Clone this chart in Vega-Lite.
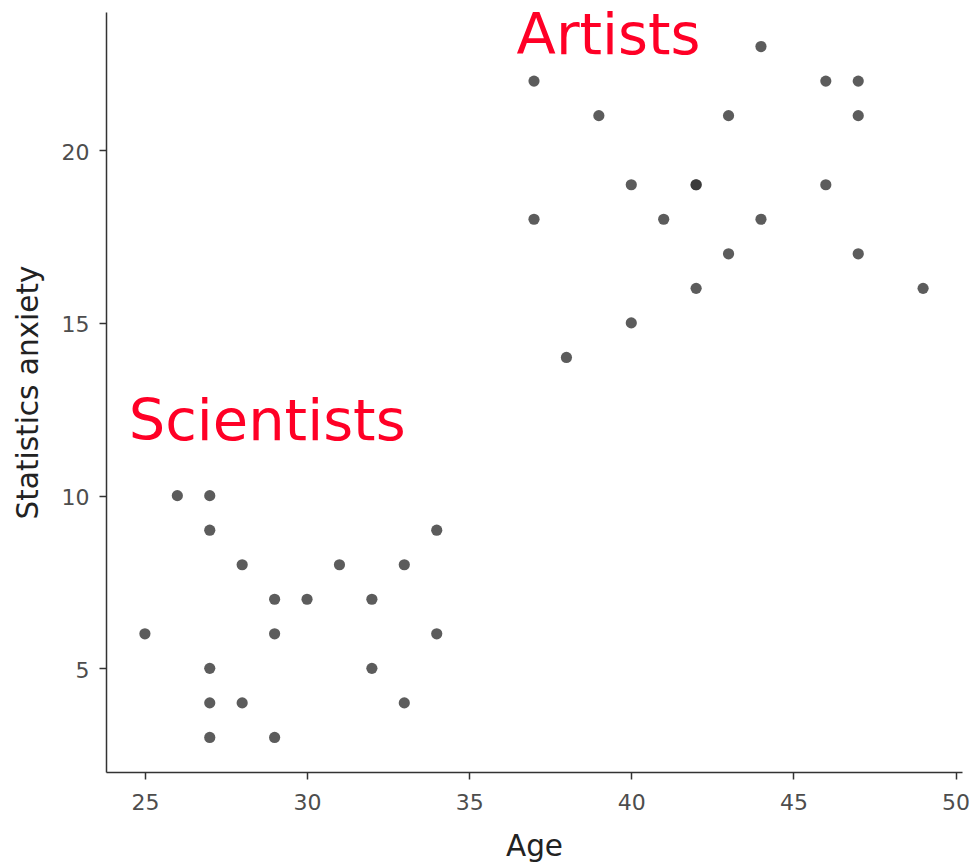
{
  "$schema": "https://vega.github.io/schema/vega-lite/v6.json",
  "autosize": {"type": "none"},
  "padding": {"left": 106, "top": 12, "right": 12, "bottom": 90},
  "width": 856,
  "height": 760,
  "background": "white",
  "config": {
    "view": {"stroke": null},
    "font": "DejaVu Sans",
    "axis": {
      "grid": false,
      "domainColor": "#333333",
      "domainWidth": 1.5,
      "tickColor": "#333333",
      "tickWidth": 1.5,
      "tickSize": 7,
      "labelFont": "DejaVu Sans",
      "labelFontSize": 22,
      "labelColor": "#4d4d4d",
      "titleFont": "DejaVu Sans",
      "titleFontSize": 29.5,
      "titleFontWeight": "normal",
      "titleColor": "#222222"
    }
  },
  "datasets": {
    "points": [
      {"age": 25, "anxiety": 6, "group": "Scientists"},
      {"age": 26, "anxiety": 10, "group": "Scientists"},
      {"age": 27, "anxiety": 10, "group": "Scientists"},
      {"age": 27, "anxiety": 9, "group": "Scientists"},
      {"age": 27, "anxiety": 5, "group": "Scientists"},
      {"age": 27, "anxiety": 4, "group": "Scientists"},
      {"age": 27, "anxiety": 3, "group": "Scientists"},
      {"age": 28, "anxiety": 8, "group": "Scientists"},
      {"age": 28, "anxiety": 4, "group": "Scientists"},
      {"age": 29, "anxiety": 7, "group": "Scientists"},
      {"age": 29, "anxiety": 6, "group": "Scientists"},
      {"age": 29, "anxiety": 3, "group": "Scientists"},
      {"age": 30, "anxiety": 7, "group": "Scientists"},
      {"age": 31, "anxiety": 8, "group": "Scientists"},
      {"age": 32, "anxiety": 7, "group": "Scientists"},
      {"age": 32, "anxiety": 5, "group": "Scientists"},
      {"age": 33, "anxiety": 8, "group": "Scientists"},
      {"age": 33, "anxiety": 4, "group": "Scientists"},
      {"age": 34, "anxiety": 9, "group": "Scientists"},
      {"age": 34, "anxiety": 6, "group": "Scientists"},
      {"age": 37, "anxiety": 22, "group": "Artists"},
      {"age": 37, "anxiety": 18, "group": "Artists"},
      {"age": 38, "anxiety": 14, "group": "Artists"},
      {"age": 39, "anxiety": 21, "group": "Artists"},
      {"age": 40, "anxiety": 19, "group": "Artists"},
      {"age": 40, "anxiety": 15, "group": "Artists"},
      {"age": 41, "anxiety": 18, "group": "Artists"},
      {"age": 42, "anxiety": 19, "group": "Artists"},
      {"age": 42, "anxiety": 19, "group": "Artists"},
      {"age": 42, "anxiety": 16, "group": "Artists"},
      {"age": 43, "anxiety": 21, "group": "Artists"},
      {"age": 43, "anxiety": 17, "group": "Artists"},
      {"age": 44, "anxiety": 23, "group": "Artists"},
      {"age": 44, "anxiety": 18, "group": "Artists"},
      {"age": 46, "anxiety": 22, "group": "Artists"},
      {"age": 46, "anxiety": 19, "group": "Artists"},
      {"age": 47, "anxiety": 22, "group": "Artists"},
      {"age": 47, "anxiety": 21, "group": "Artists"},
      {"age": 47, "anxiety": 17, "group": "Artists"},
      {"age": 49, "anxiety": 16, "group": "Artists"}
    ],
    "labels": [
      {"age": 39.3, "anxiety": 22.78, "label": "Artists"},
      {"age": 28.77, "anxiety": 11.62, "label": "Scientists"}
    ]
  },
  "layer": [
    {
      "data": {"name": "points"},
      "mark": {"type": "point", "filled": true, "shape": "circle", "size": 125, "color": "#333333", "opacity": 0.8},
      "encoding": {
        "x": {
          "field": "age", "type": "quantitative",
          "scale": {"domain": [23.8, 50.2], "nice": false, "zero": false},
          "axis": {
            "title": "Age",
            "values": [25, 30, 35, 40, 45, 50],
            "labelBaseline": "alphabetic",
            "labelPadding": 30,
            "titleX": 428,
            "titleY": 83,
            "titleAnchor": "middle",
            "titleAlign": "center",
            "titleBaseline": "alphabetic"
          }
        },
        "y": {
          "field": "anxiety", "type": "quantitative",
          "scale": {"domain": [2, 24], "nice": false, "zero": false},
          "axis": {
            "title": "Statistics anxiety",
            "values": [5, 10, 15, 20],
            "labelBaseline": "alphabetic",
            "labelOffset": 9,
            "labelPadding": 10,
            "titleX": -69,
            "titleY": 380,
            "titleAngle": -90,
            "titleAnchor": "middle",
            "titleAlign": "center",
            "titleBaseline": "alphabetic"
          }
        }
      }
    },
    {
      "data": {"name": "labels"},
      "mark": {"type": "text", "font": "DejaVu Sans", "fontSize": 57.5, "color": "#ff0026", "align": "center", "baseline": "alphabetic"},
      "encoding": {
        "x": {"field": "age", "type": "quantitative"},
        "y": {"field": "anxiety", "type": "quantitative"},
        "text": {"field": "label"}
      }
    }
  ]
}
